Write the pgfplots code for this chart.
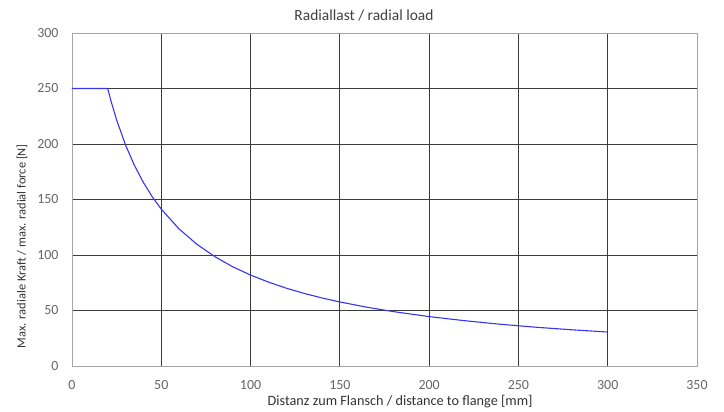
\documentclass[border=0pt]{standalone}
\usepackage{fontspec}
\setmainfont{Carlito}
\usepackage{pgfplots}
\pgfplotsset{compat=1.18}
\definecolor{gridc}{HTML}{3A3A3A}
\definecolor{tickc}{HTML}{666666}
\definecolor{linec}{HTML}{3535F5}
\begin{document}
\begin{tikzpicture}
\begin{axis}[
  at={(0,0)}, anchor=south west,
  scale only axis,
  width=625bp, height=333bp,
  xmin=0, xmax=350, ymin=0, ymax=300,
  xtick={0,50,...,350}, ytick={0,50,...,300},
  grid=major,
  major grid style={gridc, line width=1pt},
  axis line style={draw=gray!70, line width=1pt},
  tick style={draw=none},
  /pgf/number format/assume math mode=true,
  tick label style={font=\fontsize{14}{15}\selectfont, text=tickc},
  xticklabel style={anchor=center, yshift=-19bp},
  yticklabel style={anchor=east, xshift=-10bp},
  label style={text=black!80},
  xlabel={Distanz zum Flansch / distance to flange [mm]},
  ylabel={Max. radiale Kraft / max. radial force [N]},
  xlabel style={font=\fontsize{14.3}{15}\selectfont, at={(axis description cs:0.525,0)}, anchor=center, yshift=-36bp},
  ylabel style={font=\fontsize{12.5}{14}\selectfont, at={(axis description cs:0,0.36)}, anchor=center, yshift=50bp},
]
\addplot[linec, line width=1.1pt] coordinates {
  (0,250) (20,250) (22,237.8) (25,221.6) (30,199.0) (35,180.6) (40,165.3)
  (45,152.3) (50,141.3) (60,123.4) (70,109.6) (80,98.5) (90,89.4)
  (100,81.9) (110,75.6) (120,70.1) (130,65.4) (140,61.3) (150,57.7)
  (165,53.0) (180,49.0) (200,44.5) (220,40.8) (240,37.6) (260,34.9)
  (280,32.6) (300,30.6)
};
\end{axis}
\node[font=\fontsize{15.5}{16}\selectfont, text=black!75] at (292bp,351bp) {Radiallast / radial load};
\path[use as bounding box] (-72bp,-46bp) rectangle (652bp,366bp);
\end{tikzpicture}
\end{document}
